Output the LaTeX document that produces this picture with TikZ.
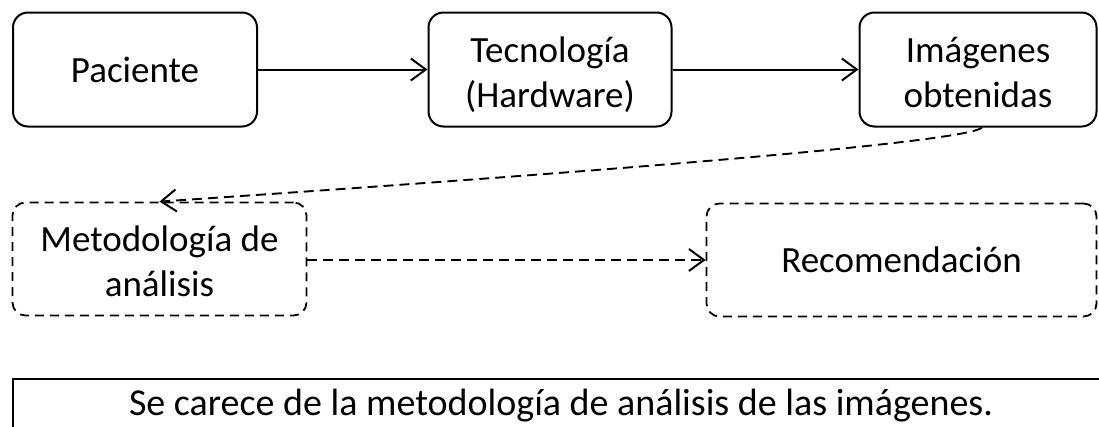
\documentclass[tikz,border=0pt]{standalone}
\usepackage{fontspec}
\setmainfont{Carlito}
\usetikzlibrary{arrows.meta}
\begin{document}
\begin{tikzpicture}[x=1pt,y=-1pt,
  every node/.style={font=\fontsize{37}{45}\selectfont, align=center, inner sep=0pt},
  twoline/.style={text height=75pt, text depth=0pt},
  solidbox/.style={draw, line width=2pt, rounded corners=15pt},
  dashbox/.style={draw, line width=1.8pt, rounded corners=13pt, dash pattern=on 9pt off 6pt},
  flow/.style={line width=2pt, -{Straight Barb[length=15pt,width=22pt,line width=2pt]}},
  dashflow/.style={flow, line width=1.9pt, dash pattern=on 10pt off 6pt}
]
\clip (0,0) rectangle (1099,426);
% top row: solid boxes
\node[solidbox, minimum width=244pt, minimum height=114pt] (pac) at (135,69.5) {Paciente};
\node[solidbox, twoline, minimum width=243pt, minimum height=114pt] (tec) at (550,69.5) {Tecnología\\(Hardware)};
\node[solidbox, twoline, minimum width=237pt, minimum height=114pt] (img) at (978,69.5) {Imágenes\\obtenidas};
% middle row: dashed boxes
\node[dashbox, twoline, minimum width=294pt, minimum height=113pt] (met) at (159.5,259) {Metodología de\\análisis};
\node[dashbox, minimum width=390pt, minimum height=113pt] (rec) at (901.5,260) {Recomendación};
% bottom frame with the statement
\node[draw, line width=2pt, rectangle, anchor=north west, minimum width=1110pt, minimum height=64pt] (note) at (12,378) {};
\node[font=\fontsize{38}{46}\selectfont] (notetext) at (561,406) {Se carece de la metodología de análisis de las imágenes.};
% connectors
\draw[flow] (pac) -- (tec);
\draw[flow] (tec) -- (img);
\draw[dashflow] ([xshift=4pt]img.south) .. controls (970,140) and (700,165) .. (met.north);
\draw[dashflow] (met.east |- rec.west) -- (rec.west);
\end{tikzpicture}
\end{document}
